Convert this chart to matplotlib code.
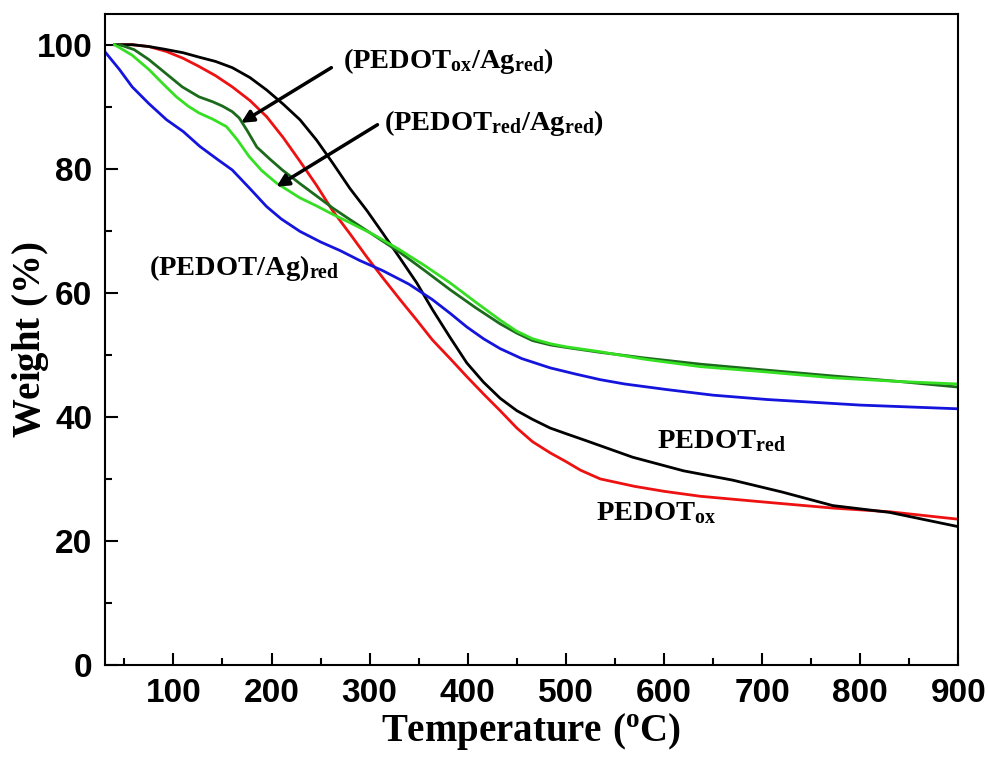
"""TGA weight-loss curves for PEDOT and PEDOT/Ag samples."""

import matplotlib

matplotlib.use("Agg")

import matplotlib.pyplot as plt
from matplotlib.ticker import MultipleLocator

# values (temperature in C, weight in %)
pedot_ox_t = [45, 58, 75, 93, 110, 126, 143, 160, 178, 195, 212, 229, 246,
              262, 280, 297, 314, 331, 348, 364, 382, 399, 416, 433, 450, 466,
              484, 500, 515, 535, 570, 600, 637, 700, 772, 830, 900]
pedot_ox_w = [100, 100, 99.7, 98.9, 97.8, 96.5, 95.0, 93.2, 91.0, 88.4, 85.0,
              81.2, 77.3, 73.3, 69.5, 65.8, 62.3, 58.9, 55.6, 52.4, 49.4,
              46.5, 43.7, 41.0, 38.2, 36.0, 34.2, 32.8, 31.4, 30.0, 28.8,
              28.0, 27.2, 26.3, 25.3, 24.7, 23.5]

pedot_red_t = [40, 58, 75, 90, 110, 126, 143, 160, 178, 195, 212, 229, 246,
               262, 280, 297, 313, 330, 348, 364, 382, 399, 416, 433, 450,
               466, 484, 500, 520, 568, 620, 670, 720, 772, 830, 900]
pedot_red_w = [100, 100, 99.7, 99.3, 98.7, 98.0, 97.3, 96.3, 94.7, 92.7, 90.4,
               87.9, 84.6, 81.0, 76.8, 73.3, 69.7, 65.8, 61.6, 57.3, 52.8,
               48.7, 45.6, 43.0, 41.0, 39.6, 38.2, 37.3, 36.2, 33.5, 31.3,
               29.8, 27.9, 25.7, 24.6, 22.3]

blend_red_t = [30, 45, 58, 75, 93, 110, 127, 145, 160, 178, 195, 210, 229,
               250, 270, 290, 313, 340, 364, 382, 399, 416, 433, 455, 484,
               510, 535, 560, 603, 650, 705, 800, 900]
blend_red_w = [98.9, 96.0, 93.2, 90.5, 87.9, 86.0, 83.6, 81.5, 79.8, 76.8,
               73.9, 71.9, 69.9, 68.2, 66.8, 65.2, 63.6, 61.4, 58.9, 56.7,
               54.5, 52.6, 51.0, 49.4, 47.9, 46.9, 46.0, 45.3, 44.4, 43.5,
               42.8, 41.9, 41.3]

ox_ag_t = [45, 60, 75, 92, 109, 126, 140, 150, 160, 167, 175, 185, 198, 211,
           229, 246, 263, 280, 305, 331, 356, 382, 408, 433, 450, 466, 484,
           500, 535, 580, 637, 700, 772, 840, 900]
ox_ag_w = [100, 99.2, 97.6, 95.4, 93.2, 91.6, 90.8, 90.1, 89.2, 88.2, 86.2,
           83.5, 81.6, 79.8, 77.6, 75.6, 73.6, 71.8, 69.2, 66.5, 63.6, 60.5,
           57.6, 55.0, 53.5, 52.3, 51.6, 51.2, 50.4, 49.5, 48.5, 47.6, 46.6,
           45.7, 44.8]

red_ag_t = [40, 58, 75, 90, 103, 115, 126, 140, 154, 165, 177, 190, 205, 229,
            246, 263, 280, 305, 331, 356, 382, 408, 433, 450, 466, 484, 500,
            535, 580, 637, 700, 772, 840, 900]
red_ag_w = [100, 98.3, 96.0, 93.6, 91.6, 90.1, 89.0, 88.0, 86.8, 84.7, 82.0,
            79.7, 77.7, 75.3, 74.0, 72.6, 71.3, 69.3, 66.9, 64.4, 61.6, 58.5,
            55.6, 53.8, 52.6, 51.8, 51.3, 50.5, 49.3, 48.1, 47.3, 46.3, 45.7,
            45.3]

plt.rcParams["mathtext.fontset"] = "custom"
plt.rcParams["mathtext.rm"] = "Liberation Serif:bold"
plt.rcParams["mathtext.it"] = "Liberation Serif:bold"
plt.rcParams["mathtext.bf"] = "Liberation Serif:bold"
plt.rcParams["mathtext.default"] = "rm"

fig = plt.figure(figsize=(9.88, 7.6), dpi=100)
ax = fig.add_axes([0.106, 0.125, 0.864, 0.857])

lw = 2.0
ax.plot(pedot_ox_t, pedot_ox_w, color="#ee1111", linewidth=lw)
ax.plot(pedot_red_t, pedot_red_w, color="black", linewidth=lw)
ax.plot(blend_red_t, blend_red_w, color="#1414dc", linewidth=lw)
ax.plot(ox_ag_t, ox_ag_w, color="#1c6a1c", linewidth=lw)
ax.plot(red_ag_t, red_ag_w, color="#35e022", linewidth=lw)

ax.set_xlim(30, 900)
ax.set_ylim(0, 105)
ax.set_xticks(range(100, 1000, 100))
ax.xaxis.set_minor_locator(MultipleLocator(50))
ax.yaxis.set_major_locator(MultipleLocator(20))
ax.yaxis.set_minor_locator(MultipleLocator(10))
ax.tick_params(which="both", direction="in", top=False, right=False, width=1.5)
ax.tick_params(which="major", length=9)
ax.tick_params(which="minor", length=5)
ax.tick_params(axis="x", pad=9)
ax.tick_params(axis="y", pad=9)
for lab in ax.get_xticklabels() + ax.get_yticklabels():
    lab.set_fontfamily("Liberation Sans")
    lab.set_fontweight("bold")
    lab.set_fontsize(24)
for sp in ax.spines.values():
    sp.set_linewidth(1.5)

ax.set_xlabel(r"$\mathrm{Temperature\ (^{o}C)}$", fontsize=28, labelpad=2)
ax.set_ylabel(r"$\mathrm{Weight\ (\%)}$", fontsize=28, va="center")
ax.yaxis.set_label_coords(-0.087, 0.5)

arrow = dict(arrowstyle="-|>", color="black", lw=2.5, mutation_scale=18,
             shrinkA=0, shrinkB=0)
ax.annotate("", xy=(169, 87.4), xytext=(261, 96.3), arrowprops=arrow)
ax.annotate("", xy=(205, 77.1), xytext=(308, 87.1), arrowprops=arrow)

ax.text(273, 97.3, r"$\mathrm{(PEDOT_{ox}/Ag_{red})}$", fontsize=20.5, va="center")
ax.text(315, 87.4, r"$\mathrm{(PEDOT_{red}/Ag_{red})}$", fontsize=20.5, va="center")
ax.text(75, 64.0, r"$\mathrm{(PEDOT/Ag)_{red}}$", fontsize=20.5, va="center")
ax.text(593, 36.3, r"$\mathrm{PEDOT_{red}}$", fontsize=20.5, va="center")
ax.text(531, 24.7, r"$\mathrm{PEDOT_{ox}}$", fontsize=20.5, va="center")

fig.savefig("out.png", dpi=100)
plt.close(fig)
